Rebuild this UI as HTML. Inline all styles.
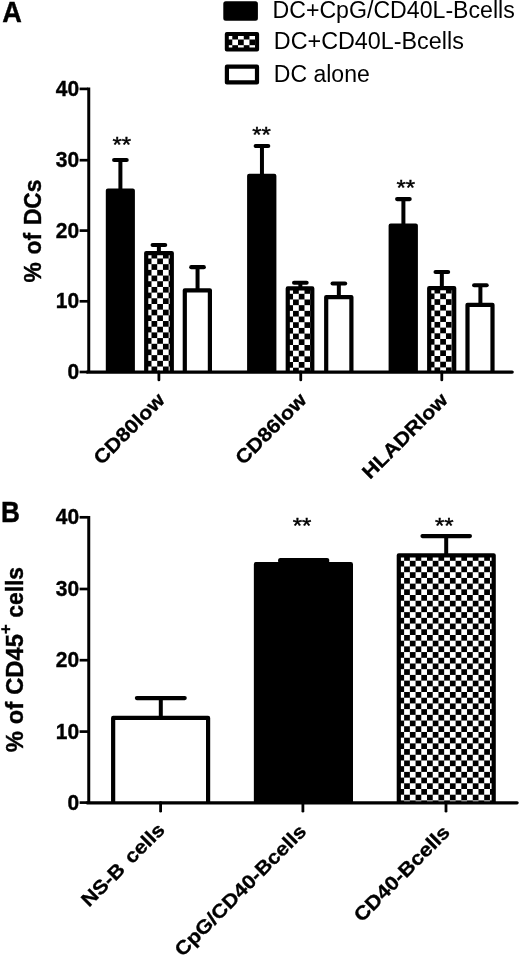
<!DOCTYPE html>
<html><head><meta charset="utf-8"><title>Figure</title>
<style>
html,body{margin:0;padding:0;background:#fff;}
body{width:520px;height:956px;overflow:hidden;}
svg{display:block;font-family:"Liberation Sans",sans-serif;fill:#000;}
.b{font-weight:bold;}
.tk{font-weight:bold;font-size:22.2px;text-anchor:end;stroke:#000;stroke-width:0.4;}
.xl{word-spacing:2.4px;font-weight:bold;font-size:21.6px;text-anchor:end;stroke:#000;stroke-width:0.35;}
.yl{font-weight:bold;font-size:24.6px;text-anchor:middle;stroke:#000;stroke-width:0.4;}
.lg{font-size:23.5px;}
.st{font-size:24px;text-anchor:middle;stroke:#000;stroke-width:0.45;}
.pl{font-weight:bold;font-size:28.2px;stroke:#000;stroke-width:0.4;}
</style></head><body>
<svg width="520" height="956" viewBox="0 0 520 956">
<defs>
<pattern id="pL" patternUnits="userSpaceOnUse" x="232.30" y="39.50" width="11.44" height="11.410"><rect width="11.44" height="11.410" fill="#fff"/><rect x="5.72" y="0" width="5.72" height="5.705" fill="#000"/><rect x="0" y="5.705" width="5.72" height="5.705" fill="#000"/></pattern><pattern id="p1" patternUnits="userSpaceOnUse" x="151.50" y="258.50" width="11.44" height="11.370"><rect width="11.44" height="11.370" fill="#fff"/><rect x="5.72" y="0" width="5.72" height="5.685" fill="#000"/><rect x="0" y="5.685" width="5.72" height="5.685" fill="#000"/></pattern><pattern id="p2" patternUnits="userSpaceOnUse" x="293.05" y="293.80" width="11.44" height="11.370"><rect width="11.44" height="11.370" fill="#fff"/><rect x="5.72" y="0" width="5.72" height="5.685" fill="#000"/><rect x="0" y="5.685" width="5.72" height="5.685" fill="#000"/></pattern><pattern id="p3" patternUnits="userSpaceOnUse" x="434.50" y="293.50" width="11.44" height="11.370"><rect width="11.44" height="11.370" fill="#fff"/><rect x="5.72" y="0" width="5.72" height="5.685" fill="#000"/><rect x="0" y="5.685" width="5.72" height="5.685" fill="#000"/></pattern><pattern id="p4" patternUnits="userSpaceOnUse" x="404.13" y="560.80" width="11.44" height="11.410"><rect width="11.44" height="11.410" fill="#fff"/><rect x="5.72" y="0" width="5.72" height="5.705" fill="#000"/><rect x="0" y="5.705" width="5.72" height="5.705" fill="#000"/></pattern></defs>
<rect width="520" height="956" fill="#fff"/>
<text class="pl" style="font-size:29.4px" transform="translate(2.25 21.8) scale(0.925 1)">A</text>
<text class="pl" style="font-size:29.1px" transform="translate(1.1 522.0) scale(0.9 1)">B</text>
<rect x="225.3" y="3.15" width="30.6" height="15.65" rx="0.5" fill="#000" stroke="#000" stroke-width="4" stroke-linejoin="round"/>
<rect x="226.8" y="34.1" width="30.3" height="15.5" fill="url(#pL)" stroke="#000" stroke-width="4" stroke-linejoin="round"/>
<rect x="226.9" y="66.7" width="30.1" height="15.7" fill="#fff" stroke="#000" stroke-width="4.2" stroke-linejoin="round"/>
<text class="lg" x="272.5" y="18.4" textLength="242.3" lengthAdjust="spacingAndGlyphs">DC+CpG/CD40L-Bcells</text>
<text class="lg" x="273.8" y="49.3" textLength="190" lengthAdjust="spacingAndGlyphs">DC+CD40L-Bcells</text>
<text class="lg" x="273.8" y="82" textLength="96" lengthAdjust="spacingAndGlyphs">DC alone</text>
<path d="M114.10 160.00H126.70" stroke="#000" stroke-width="4.1" stroke-linecap="round" fill="none"/><path d="M120.40 160.00V190.50" stroke="#000" stroke-width="4.0" fill="none"/>
<path d="M107.90 372.00V190.60H132.80V372.00" fill="#000" stroke="#000" stroke-width="4.2" stroke-linejoin="round"/>
<path d="M152.60 245.05H165.20" stroke="#000" stroke-width="4.1" stroke-linecap="round" fill="none"/><path d="M158.90 245.05V253.00" stroke="#000" stroke-width="4.0" fill="none"/>
<path d="M146.20 372.00V253.10H171.80V372.00" fill="url(#p1)" stroke="#000" stroke-width="4.2" stroke-linejoin="round"/>
<path d="M191.25 267.15H203.85" stroke="#000" stroke-width="4.1" stroke-linecap="round" fill="none"/><path d="M197.55 267.15V290.20" stroke="#000" stroke-width="4.0" fill="none"/>
<path d="M184.80 372.00V290.30H209.90V372.00" fill="#fff" stroke="#000" stroke-width="4.2" stroke-linejoin="round"/>
<path d="M255.65 146.00H268.25" stroke="#000" stroke-width="4.1" stroke-linecap="round" fill="none"/><path d="M261.95 146.00V175.75" stroke="#000" stroke-width="4.0" fill="none"/>
<path d="M249.20 372.00V175.85H274.30V372.00" fill="#000" stroke="#000" stroke-width="4.2" stroke-linejoin="round"/>
<path d="M294.05 282.75H306.65" stroke="#000" stroke-width="4.1" stroke-linecap="round" fill="none"/><path d="M300.35 282.75V288.30" stroke="#000" stroke-width="4.0" fill="none"/>
<path d="M287.75 372.00V288.40H312.30V372.00" fill="url(#p2)" stroke="#000" stroke-width="4.2" stroke-linejoin="round"/>
<path d="M332.55 283.55H345.15" stroke="#000" stroke-width="4.1" stroke-linecap="round" fill="none"/><path d="M338.85 283.55V297.00" stroke="#000" stroke-width="4.0" fill="none"/>
<path d="M326.20 372.00V297.10H351.40V372.00" fill="#fff" stroke="#000" stroke-width="4.2" stroke-linejoin="round"/>
<path d="M397.10 199.10H409.70" stroke="#000" stroke-width="4.1" stroke-linecap="round" fill="none"/><path d="M403.40 199.10V225.50" stroke="#000" stroke-width="4.0" fill="none"/>
<path d="M390.70 372.00V225.60H415.80V372.00" fill="#000" stroke="#000" stroke-width="4.2" stroke-linejoin="round"/>
<path d="M435.55 272.00H448.15" stroke="#000" stroke-width="4.1" stroke-linecap="round" fill="none"/><path d="M441.85 272.00V288.00" stroke="#000" stroke-width="4.0" fill="none"/>
<path d="M429.20 372.00V288.10H454.20V372.00" fill="url(#p3)" stroke="#000" stroke-width="4.2" stroke-linejoin="round"/>
<path d="M474.10 285.30H486.70" stroke="#000" stroke-width="4.1" stroke-linecap="round" fill="none"/><path d="M480.40 285.30V304.70" stroke="#000" stroke-width="4.0" fill="none"/>
<path d="M467.50 372.00V304.80H492.50V372.00" fill="#fff" stroke="#000" stroke-width="4.2" stroke-linejoin="round"/>
<path d="M88.75 87.55V372.0" stroke="#000" stroke-width="3.0" fill="none"/><path d="M87.15 372.0H512.2" stroke="#000" stroke-width="3.25" fill="none" stroke-linecap="round"/>
<path d="M79.6 88.9H88" stroke="#000" stroke-width="2.7" fill="none"/><text class="tk" transform="translate(79.1 95.9) scale(0.945 1)">40</text>
<path d="M79.6 160.2H88" stroke="#000" stroke-width="2.7" fill="none"/><text class="tk" transform="translate(79.1 167.2) scale(0.945 1)">30</text>
<path d="M79.6 230.6H88" stroke="#000" stroke-width="2.7" fill="none"/><text class="tk" transform="translate(79.1 237.6) scale(0.945 1)">20</text>
<path d="M79.6 301.3H88" stroke="#000" stroke-width="2.7" fill="none"/><text class="tk" transform="translate(79.1 308.3) scale(0.945 1)">10</text>
<path d="M79.6 372.0H88" stroke="#000" stroke-width="2.7" fill="none"/><text class="tk" transform="translate(79.1 379.0) scale(0.945 1)">0</text>
<path d="M158.9 372.0V379.9" stroke="#000" stroke-width="2.8" stroke-linecap="round" fill="none"/>
<path d="M300.75 372.0V379.9" stroke="#000" stroke-width="2.8" stroke-linecap="round" fill="none"/>
<path d="M441.8 372.0V379.9" stroke="#000" stroke-width="2.8" stroke-linecap="round" fill="none"/>
<text class="xl" style="font-size:21.6px" transform="translate(165.90 401.2) rotate(-45) scale(1 0.9)">CD80low</text>
<text class="xl" style="font-size:21.6px" transform="translate(307.75 401.2) rotate(-45) scale(1 0.9)">CD86low</text>
<text class="xl" style="font-size:21.55px" transform="translate(448.80 401.2) rotate(-45) scale(1 0.9)">HLADRlow</text>
<text class="yl" style="word-spacing:1.6px" transform="translate(41.3 231.0) rotate(-90) scale(0.927 1)">% of DCs</text>
<text class="st" transform="translate(121.75 151.5) scale(1 0.93)">**</text>
<text class="st" transform="translate(261.5 141.5) scale(1 0.93)">**</text>
<text class="st" transform="translate(405.75 195.4) scale(1 0.93)">**</text>
<path d="M136.85 698.10H184.75" stroke="#000" stroke-width="4.1" stroke-linecap="round" fill="none"/><path d="M160.80 698.10V717.80" stroke="#000" stroke-width="4.0" fill="none"/>
<path d="M113.15 802.75V717.90H208.10V802.75" fill="#fff" stroke="#000" stroke-width="4.2" stroke-linejoin="round"/>
<path d="M280.25 559.95H327.15" stroke="#000" stroke-width="4.1" stroke-linecap="round" fill="none"/><path d="M303.70 559.95V564.10" stroke="#000" stroke-width="4.0" fill="none"/>
<path d="M255.95 802.75V564.20H350.90V802.75" fill="#000" stroke="#000" stroke-width="4.2" stroke-linejoin="round"/>
<path d="M422.45 536.10H469.95" stroke="#000" stroke-width="4.1" stroke-linecap="round" fill="none"/><path d="M446.20 536.10V555.20" stroke="#000" stroke-width="4.0" fill="none"/>
<path d="M398.80 802.75V555.30H493.70V802.75" fill="url(#p4)" stroke="#000" stroke-width="4.2" stroke-linejoin="round"/>
<rect x="278.2" y="559.6" width="51" height="4" fill="#000"/>
<path d="M88.75 515.95V802.75" stroke="#000" stroke-width="3.0" fill="none"/><path d="M87.15 802.75H517.1" stroke="#000" stroke-width="3.25" fill="none" stroke-linecap="round"/>
<path d="M79.6 517.3H88" stroke="#000" stroke-width="2.7" fill="none"/><text class="tk" transform="translate(79.1 524.3) scale(0.945 1)">40</text>
<path d="M79.6 589.0H88" stroke="#000" stroke-width="2.7" fill="none"/><text class="tk" transform="translate(79.1 596.0) scale(0.945 1)">30</text>
<path d="M79.6 660.2H88" stroke="#000" stroke-width="2.7" fill="none"/><text class="tk" transform="translate(79.1 667.2) scale(0.945 1)">20</text>
<path d="M79.6 731.6H88" stroke="#000" stroke-width="2.7" fill="none"/><text class="tk" transform="translate(79.1 738.6) scale(0.945 1)">10</text>
<path d="M79.6 802.6H88" stroke="#000" stroke-width="2.7" fill="none"/><text class="tk" transform="translate(79.1 809.6) scale(0.945 1)">0</text>
<path d="M160.6 802.75V811.2" stroke="#000" stroke-width="2.8" stroke-linecap="round" fill="none"/>
<path d="M302.9 802.75V811.2" stroke="#000" stroke-width="2.8" stroke-linecap="round" fill="none"/>
<path d="M446.0 802.75V811.2" stroke="#000" stroke-width="2.8" stroke-linecap="round" fill="none"/>
<text class="xl" style="font-size:21.5px" transform="translate(165.90 831) rotate(-45) scale(1 0.9)">NS-B cells</text>
<text class="xl" style="font-size:21.5px" transform="translate(307.40 832.6) rotate(-45) scale(1 0.9)">CpG/CD40-Bcells</text>
<text class="xl" style="font-size:21.7px" transform="translate(451.10 833.5) rotate(-45) scale(1 0.9)">CD40-Bcells</text>
<text class="yl" style="word-spacing:0.3px;font-size:23.2px" transform="translate(22.7 659.6) rotate(-90) scale(0.983 1)"><tspan font-size="24.2">% of CD45</tspan><tspan dy="-11.9" font-size="17">+</tspan><tspan dy="11.9"> cells</tspan></text>
<text class="st" transform="translate(302.0 532.8) scale(1 0.93)">**</text>
<text class="st" transform="translate(444.3 532.8) scale(1 0.93)">**</text>
</svg></body></html>
